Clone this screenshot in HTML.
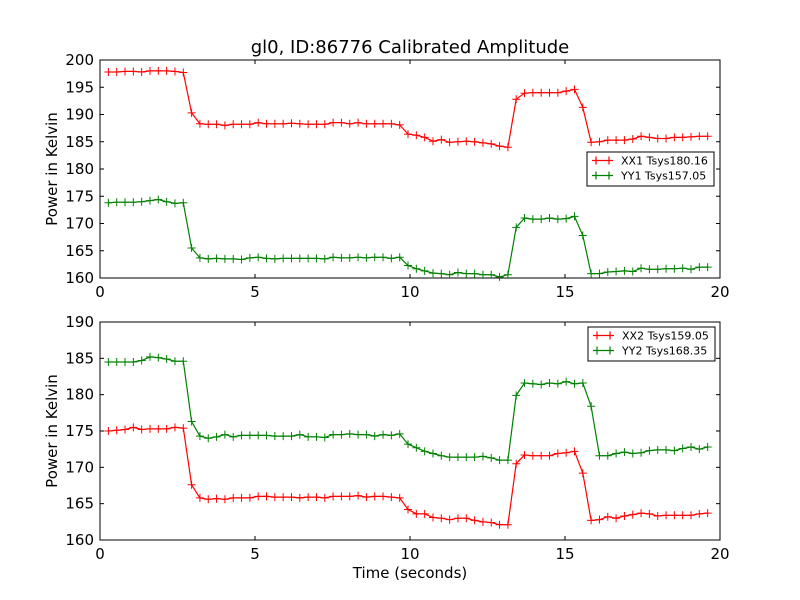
<!DOCTYPE html>
<html><head><meta charset="utf-8"><style>
body{margin:0;background:#fff}
svg{display:block;font-family:"DejaVu Sans","Liberation Sans",sans-serif}
</style></head><body>
<svg id="chart" width="800" height="600" viewBox="0 0 800 600">
<rect width="800" height="600" fill="#fff"/>
<text x="410" y="53" text-anchor="middle" font-size="18">gl0, ID:86776 Calibrated Amplitude</text>
<g id="top"></g>
<g id="bot"></g>
<text x="410" y="578" text-anchor="middle" font-size="15">Time (seconds)</text>
</svg>
<script>
const tStart = 0.27, tStep = 0.2685;
const xTicks = [0, 5, 10, 15, 20];
const topTicks = [160, 165, 170, 175, 180, 185, 190, 195, 200];
const botTicks = [160, 165, 170, 175, 180, 185, 190];
const xx1 = [197.8,197.8,197.9,197.9,197.8,198.0,198.0,198.0,197.9,197.7,190.3,188.3,188.2,188.2,188.0,188.2,188.2,188.2,188.5,188.3,188.3,188.3,188.4,188.3,188.2,188.2,188.2,188.5,188.5,188.3,188.5,188.3,188.3,188.3,188.3,188.1,186.4,186.2,185.8,185.1,185.4,184.9,185.0,185.1,185.0,184.8,184.6,184.2,184.0,192.8,193.9,194.0,194.0,194.0,194.0,194.3,194.6,191.3,184.9,185.0,185.3,185.3,185.3,185.5,186.0,185.8,185.6,185.6,185.8,185.8,185.9,186.0,186.0];
const yy1 = [173.8,173.9,173.9,173.9,174.0,174.2,174.4,174.0,173.7,173.8,165.5,163.7,163.5,163.6,163.5,163.5,163.4,163.7,163.8,163.6,163.5,163.6,163.6,163.6,163.6,163.6,163.5,163.8,163.7,163.7,163.8,163.7,163.8,163.8,163.6,163.8,162.3,161.7,161.3,160.9,160.8,160.6,161.0,160.8,160.8,160.6,160.6,160.2,160.6,169.3,171.0,170.8,170.8,171.0,170.8,170.9,171.3,167.8,160.8,160.8,161.1,161.2,161.3,161.2,161.8,161.6,161.6,161.7,161.7,161.8,161.6,162.0,162.0];
const xx2 = [175.0,175.1,175.2,175.5,175.2,175.3,175.3,175.3,175.5,175.4,167.6,165.8,165.6,165.7,165.6,165.8,165.8,165.8,166.0,166.0,165.9,165.9,165.9,165.8,165.9,165.9,165.8,166.0,166.0,166.0,166.1,165.9,166.0,166.0,165.9,165.8,164.2,163.6,163.6,163.1,163.0,162.8,163.0,163.0,162.7,162.5,162.4,162.1,162.1,170.5,171.7,171.6,171.6,171.6,171.9,172.0,172.2,169.2,162.7,162.8,163.2,163.0,163.3,163.5,163.7,163.6,163.3,163.4,163.4,163.4,163.4,163.6,163.7];
const yy2 = [184.5,184.5,184.5,184.5,184.7,185.2,185.1,184.9,184.6,184.6,176.3,174.3,174.0,174.2,174.5,174.2,174.4,174.4,174.4,174.4,174.3,174.3,174.3,174.5,174.2,174.2,174.1,174.5,174.5,174.6,174.5,174.5,174.3,174.5,174.4,174.6,173.2,172.7,172.2,171.9,171.6,171.4,171.4,171.4,171.4,171.5,171.3,171.0,171.0,179.9,181.6,181.5,181.4,181.6,181.5,181.8,181.5,181.6,178.4,171.6,171.6,171.9,172.1,171.9,172.0,172.3,172.4,172.4,172.3,172.6,172.8,172.5,172.8];
const NS = 'http://www.w3.org/2000/svg';
function mk(parent, tag, attrs) {
  const e = document.createElementNS(NS, tag);
  for (const k in attrs) e.setAttribute(k, attrs[k]);
  parent.appendChild(e);
  return e;
}
const X0 = 100, X1 = 720;
function xs(t) { return X0 + t / 20 * (X1 - X0); }
function panel(g, top, bottom, ymin, ymax, yTicks, series, legend) {
  const ys = v => bottom - (v - ymin) / (ymax - ymin) * (bottom - top);
  const frame = mk(g, 'rect', {x: X0, y: top, width: X1 - X0, height: bottom - top, fill: '#fff', stroke: '#000', 'stroke-width': 1});
  
  
  xTicks.forEach(v => {
    const x = xs(v);
    mk(g, 'line', {x1: x, y1: bottom, x2: x, y2: bottom - 4, stroke: '#000'});
    mk(g, 'line', {x1: x, y1: top, x2: x, y2: top + 4, stroke: '#000'});
    const t = mk(g, 'text', {x: x, y: bottom + 19, 'text-anchor': 'middle', 'font-size': 15});
    t.textContent = v;
    
    
  });
  yTicks.forEach(v => {
    const y = ys(v);
    mk(g, 'line', {x1: X0, y1: y, x2: X0 + 4, y2: y, stroke: '#000'});
    mk(g, 'line', {x1: X1, y1: y, x2: X1 - 4, y2: y, stroke: '#000'});
    const t = mk(g, 'text', {x: X0 - 6, y: y + 5, 'text-anchor': 'end', 'font-size': 15});
    t.textContent = v;
    
    
  });
  const cy = (top + bottom) / 2;
  const yt = mk(g, 'text', {x: 57, y: cy, 'text-anchor': 'middle', 'font-size': 15, transform: 'rotate(-90 57 ' + cy + ')'});
  yt.textContent = 'Power in Kelvin';
  
  
  series.forEach(s => {
    let d = '';
    s.vals.forEach((v, i) => { d += (i ? 'L' : 'M') + xs(tStart + tStep * i).toFixed(1) + ' ' + ys(v).toFixed(1); });
    const p = mk(g, 'path', {d: d, fill: 'none', stroke: s.color, 'stroke-width': 1.2});
    
    
    s.vals.forEach((v, i) => {
      const x = xs(tStart + tStep * i), y = ys(v);
      const m = mk(g, 'path', {d: `M${x - 4} ${y}H${x + 4}M${x} ${y - 4}V${y + 4}`, stroke: s.color, 'stroke-width': 1});
      
      
    });
  });
  const lg = mk(g, 'g', {});
  
  
  mk(lg, 'rect', {x: legend.x, y: legend.y, width: 127, height: 34, fill: '#fff', stroke: '#000', 'stroke-width': 1});
  series.forEach((s, i) => {
    const y = legend.y + 8.5 + i * 15;
    mk(lg, 'path', {d: `M${legend.x + 5} ${y}H${legend.x + 26}M${legend.x + 9} ${y - 4}V${y + 4}M${legend.x + 22} ${y - 4}V${y + 4}`, stroke: s.color, 'stroke-width': 1.2});
    const t = mk(lg, 'text', {x: legend.x + 34, y: y + 4, 'font-size': 11});
    t.textContent = s.label;
    
    
  });
}
panel(document.getElementById('top'), 60, 278, 160, 200, topTicks,
  [{vals: xx1, color: '#ff0000', name: 'xx1', label: 'XX1 Tsys180.16'},
   {vals: yy1, color: '#008000', name: 'yy1', label: 'YY1 Tsys157.05'}], {x: 587, y: 152});
panel(document.getElementById('bot'), 322, 540, 160, 190, botTicks,
  [{vals: xx2, color: '#ff0000', name: 'xx2', label: 'XX2 Tsys159.05'},
   {vals: yy2, color: '#008000', name: 'yy2', label: 'YY2 Tsys168.35'}], {x: 588, y: 327});
</script>
</body></html>
